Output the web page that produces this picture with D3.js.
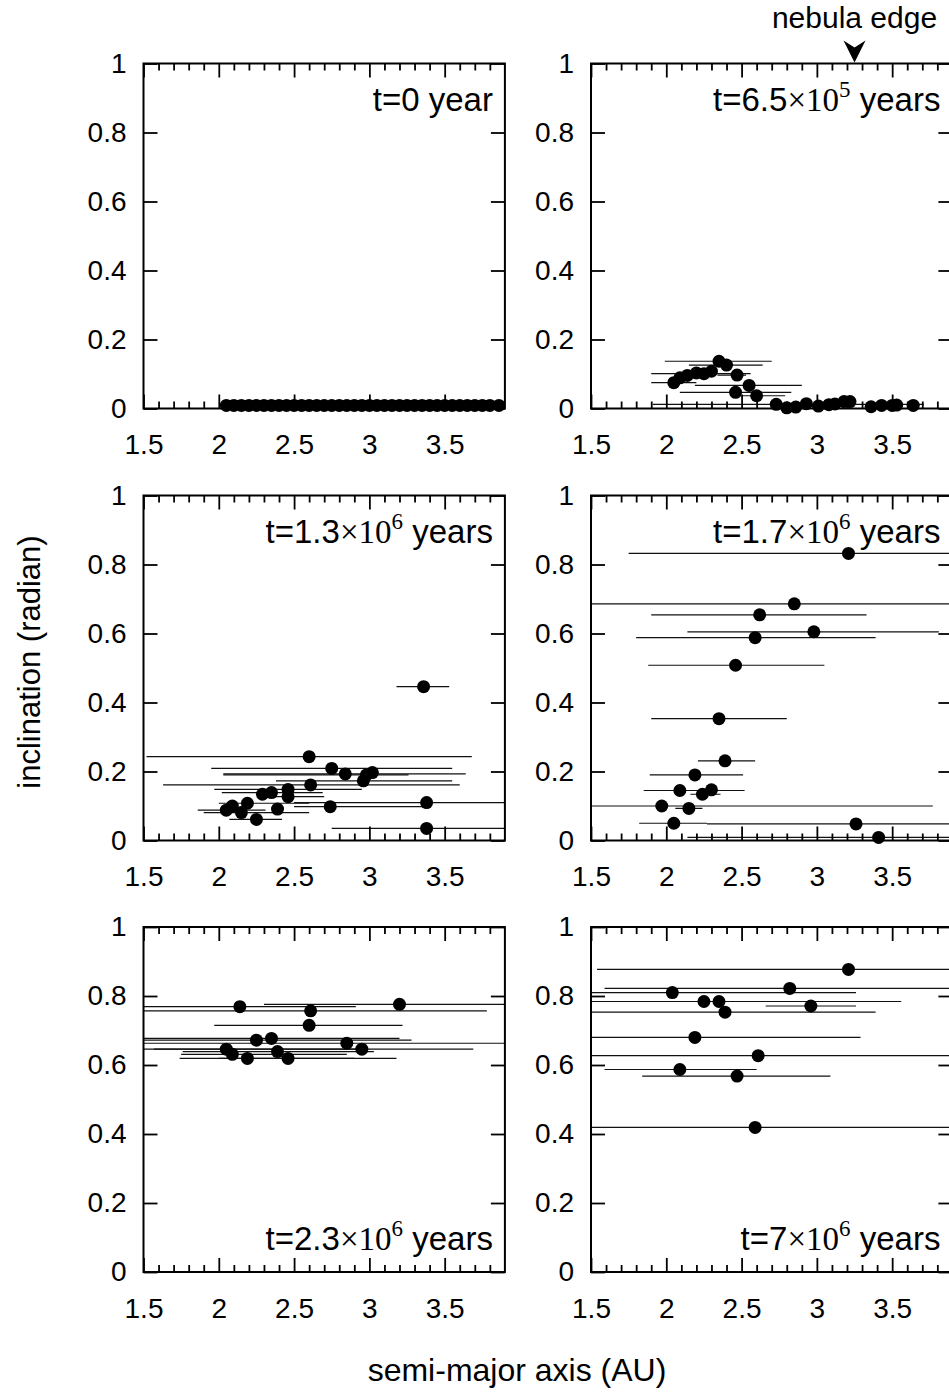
<!DOCTYPE html>
<html>
<head>
<meta charset="utf-8">
<title>Inclination vs semi-major axis</title>
<script src="https://cdnjs.cloudflare.com/ajax/libs/d3/7.8.5/d3.min.js"></script>
<style>
  body { margin: 0; background: #fff; }
  svg text { font-family: "Liberation Sans", Arial, Helvetica, sans-serif; fill: #000; white-space: pre; }
  .serif { font-family: "Liberation Serif", "Times New Roman", serif; }
</style>
</head>
<body>
<svg id="chart" width="949" height="1396"></svg>
<script>
// ticks
const xMajor = [1.5, 2, 2.5, 3, 3.5];
const xMinor = [1.6, 1.7, 1.8, 1.9, 2.1, 2.2, 2.3, 2.4, 2.6, 2.7, 2.8, 2.9, 3.1, 3.2, 3.3, 3.4, 3.6, 3.7, 3.8];
const yMajor = [0, 0.2, 0.4, 0.6, 0.8, 1];

// panel labels  t = coef x 10^exp
const labelCoef = ["0", "6.5", "1.3", "1.7", "2.3", "7"];
const labelExp = [null, "5", "6", "6", "6", "6"];
const nebulaEdge = 3.25;

// t=0
const a0 = [2.05, 2.10, 2.15, 2.20, 2.25, 2.30, 2.35, 2.40, 2.45, 2.50, 2.55, 2.60, 2.65, 2.70, 2.75, 2.80, 2.85, 2.90, 2.95,
            3.00, 3.05, 3.10, 3.15, 3.20, 3.25, 3.30, 3.35, 3.40, 3.45, 3.50, 3.55, 3.60, 3.65, 3.70, 3.75, 3.80, 3.86];
const inc0 = [0.009, 0.009, 0.009, 0.009, 0.009, 0.009, 0.009, 0.009, 0.009, 0.009, 0.009, 0.009, 0.009, 0.009, 0.009, 0.009, 0.009, 0.009, 0.009,
              0.009, 0.009, 0.009, 0.009, 0.009, 0.009, 0.009, 0.009, 0.009, 0.009, 0.009, 0.009, 0.009, 0.009, 0.009, 0.009, 0.009, 0.009];
const lo0 = [];
const hi0 = [];

// t=6.5e5
const a1 = [2.05, 2.09, 2.14, 2.20, 2.25, 2.30, 2.35, 2.40, 2.47, 2.55, 2.46, 2.60, 2.73, 2.80, 2.86, 2.93, 3.01, 3.08, 3.12, 3.18, 3.22, 3.36, 3.43, 3.50, 3.53, 3.64];
const inc1 = [0.075, 0.089, 0.096, 0.103, 0.101, 0.108, 0.137, 0.126, 0.097, 0.067, 0.047, 0.037, 0.012, 0.002, 0.004, 0.014, 0.007, 0.011, 0.013, 0.020, 0.020, 0.005, 0.009, 0.009, 0.010, 0.009];
const lo1 = [1.90, null, null, null, 1.90, null, 1.99, 2.15, 2.34, 2.19, 2.09, 2.47, 1.91];
const hi1 = [2.20, null, null, null, 2.56, null, 2.70, 2.64, 2.53, 2.90, 2.83, 2.79, 3.71];

// t=1.3e6
const a2 = [3.36, 2.60, 2.75, 2.84, 2.98, 3.02, 2.96, 2.61, 2.46, 2.46, 2.35, 2.29, 2.19, 2.09, 2.05, 2.15, 2.25, 2.39, 2.74, 3.38, 3.38];
const inc2 = [0.446, 0.243, 0.209, 0.193, 0.190, 0.197, 0.173, 0.161, 0.148, 0.127, 0.139, 0.134, 0.108, 0.100, 0.088, 0.081, 0.061, 0.091, 0.098, 0.110, 0.035];
const lo2 = [3.18, 1.52, 1.95, 2.03, 2.03, null, 2.38, 1.63, 1.97, 2.30, 2.02, null, 2.00, null, 1.86, 1.90, 2.07, null, 2.50, 2.50, 2.75];
const hi2 = [3.53, 3.68, 3.55, 3.64, 3.26, null, 3.55, 3.60, 2.95, 2.70, 2.69, null, 2.60, null, 2.31, 2.60, 2.42, null, 3.37, 4.30, 4.30];

// t=1.7e6
const a3 = [3.21, 2.85, 2.62, 2.98, 2.59, 2.46, 2.35, 2.39, 2.19, 2.09, 2.30, 2.24, 1.97, 2.15, 2.05, 3.26, 3.41];
const inc3 = [0.832, 0.686, 0.654, 0.605, 0.588, 0.508, 0.353, 0.231, 0.190, 0.145, 0.147, 0.134, 0.100, 0.093, 0.050, 0.048, 0.009];
const lo3 = [1.75, 1.40, 1.90, 2.14, 1.80, 1.88, 1.90, 2.21, 1.89, 1.85, null, 2.16, 1.40, 2.06, 1.82, 2.27, 2.14];
const hi3 = [4.30, 4.30, 3.33, 3.81, 3.39, 3.05, 2.80, 2.59, 2.51, 2.52, null, 2.36, 3.77, 2.24, 2.27, 4.30, 4.30];

// t=2.3e6
const a4 = [2.14, 3.20, 2.61, 2.60, 2.25, 2.35, 2.85, 2.95, 2.05, 2.09, 2.39, 2.19, 2.46];
const inc4 = [0.769, 0.776, 0.757, 0.715, 0.672, 0.677, 0.663, 0.646, 0.646, 0.631, 0.639, 0.619, 0.619];
const lo4 = [1.40, 2.30, 1.45, 1.97, 1.40, 1.40, 1.40, 1.57, 1.40, 1.75, 1.76, 1.74, 2.00];
const hi4 = [2.91, 4.30, 3.78, 3.22, 3.28, 3.20, 4.30, 3.69, 2.96, 2.85, 3.03, 3.18, 2.90];

// t=7e6
const a5 = [3.21, 2.82, 2.04, 2.25, 2.35, 2.96, 2.39, 2.19, 2.61, 2.09, 2.47, 2.59];
const inc5 = [0.877, 0.822, 0.810, 0.784, 0.784, 0.771, 0.753, 0.680, 0.627, 0.587, 0.568, 0.419];
const lo5 = [1.54, 1.59, 1.40, 1.40, null, 2.66, 1.40, 1.40, 1.40, 1.59, 1.84, 1.40];
const hi5 = [4.30, 4.30, 3.26, 3.56, null, 3.26, 3.39, 3.29, 4.30, 2.60, 3.09, 4.30];

const panels = [
  {a: a0, inc: inc0, lo: lo0, hi: hi0},
  {a: a1, inc: inc1, lo: lo1, hi: hi1},
  {a: a2, inc: inc2, lo: lo2, hi: hi2},
  {a: a3, inc: inc3, lo: lo3, hi: hi3},
  {a: a4, inc: inc4, lo: lo4, hi: hi4},
  {a: a5, inc: inc5, lo: lo5, hi: hi5}
];

const colLeft = [143.5, 591];
const rowTop = [63.5, 495.5, 927];
const pw = 361.4, ph = 345;

const svg = d3.select("#chart");

svg.append("defs").append("clipPath")
  .attr("id", "plotclip")
  .append("rect").attr("x", 0).attr("y", 0).attr("width", pw).attr("height", ph);

const x = d3.scaleLinear().domain([1.5, 3.9]).range([0, pw]);
const y = d3.scaleLinear().domain([0, 1]).range([ph, 0]);

panels.forEach((p, k) => {
  const col = k % 2, row = Math.floor(k / 2);
  const g = svg.append("g").attr("transform", `translate(${colLeft[col]},${rowTop[row]})`);

  // error bars (perihelion - aphelion)
  const pts = p.a.map((a, i) => ({a: a, inc: p.inc[i], lo: p.lo[i], hi: p.hi[i]}));
  g.append("g").attr("clip-path", "url(#plotclip)")
    .selectAll("line")
    .data(pts.filter(d => d.lo != null))
    .enter().append("line")
    .attr("x1", d => x(d.lo))
    .attr("x2", d => x(d.hi))
    .attr("y1", d => y(d.inc))
    .attr("y2", d => y(d.inc))
    .attr("stroke", "#111")
    .attr("stroke-width", 1.2);

  g.selectAll("circle")
    .data(pts)
    .enter().append("circle")
    .attr("cx", d => x(d.a))
    .attr("cy", d => y(d.inc))
    .attr("r", 6.5)
    .attr("fill", "#000");

  // axes, ticks pointing inward
  const axes = [
    {ax: d3.axisBottom(x).tickValues(xMinor).tickSize(-7).tickFormat(""), t: `translate(0,${ph})`},
    {ax: d3.axisBottom(x).tickValues(xMajor).tickSize(-14).tickPadding(26).tickFormat(d => String(d)), t: `translate(0,${ph})`},
    {ax: d3.axisTop(x).tickValues(xMinor).tickSize(-7).tickFormat(""), t: "translate(0,0)"},
    {ax: d3.axisTop(x).tickValues(xMajor).tickSize(-14).tickFormat(""), t: "translate(0,0)"},
    {ax: d3.axisLeft(y).tickValues(yMajor).tickSize(-14).tickPadding(17).tickFormat(d => String(d)), t: "translate(0,0)"},
    {ax: d3.axisRight(y).tickValues(yMajor).tickSize(-14).tickFormat(""), t: `translate(${pw},0)`}
  ];
  axes.forEach(o => {
    const ag = g.append("g").attr("transform", o.t).call(o.ax);
    ag.attr("font-family", null);
    ag.select(".domain").remove();
    ag.selectAll(".tick line").attr("stroke", "#000").attr("stroke-width", 1.8);
    ag.selectAll("text").attr("font-size", 28).attr("fill", "#000");
  });

  g.append("rect").attr("width", pw).attr("height", ph)
    .attr("fill", "none").attr("stroke", "#000").attr("stroke-width", 2);

  // panel label
  const lx = pw - 12;
  const ly = row < 2 ? 47 : ph - 22;
  const t = g.append("text").attr("x", lx).attr("y", ly).attr("text-anchor", "end").attr("font-size", 33);
  if (labelExp[k] == null) {
    t.text("t=" + labelCoef[k] + " year");
  } else {
    t.append("tspan").text("t=" + labelCoef[k]);
    t.append("tspan").attr("class", "serif").text("×10");
    t.append("tspan").attr("class", "serif").attr("font-size", 23).attr("dy", -14).text(labelExp[k]);
    t.append("tspan").attr("dy", 14).text(" years");
  }

  if (k === 1) {
    const ex = x(nebulaEdge);
    g.append("text").attr("x", ex).attr("y", -36).attr("text-anchor", "middle")
      .attr("font-size", 30).text("nebula edge");
    g.append("path")
      .attr("d", `M${ex - 11},-23 L${ex},-1 L${ex + 11},-23 L${ex},-16 Z`)
      .attr("fill", "#000");
  }
});

svg.append("text")
  .attr("transform", "translate(40,662) rotate(-90)")
  .attr("text-anchor", "middle").attr("font-size", 31)
  .text("inclination (radian)");

svg.append("text")
  .attr("x", 517).attr("y", 1381)
  .attr("text-anchor", "middle").attr("font-size", 32)
  .text("semi-major axis (AU)");
</script>
</body>
</html>
